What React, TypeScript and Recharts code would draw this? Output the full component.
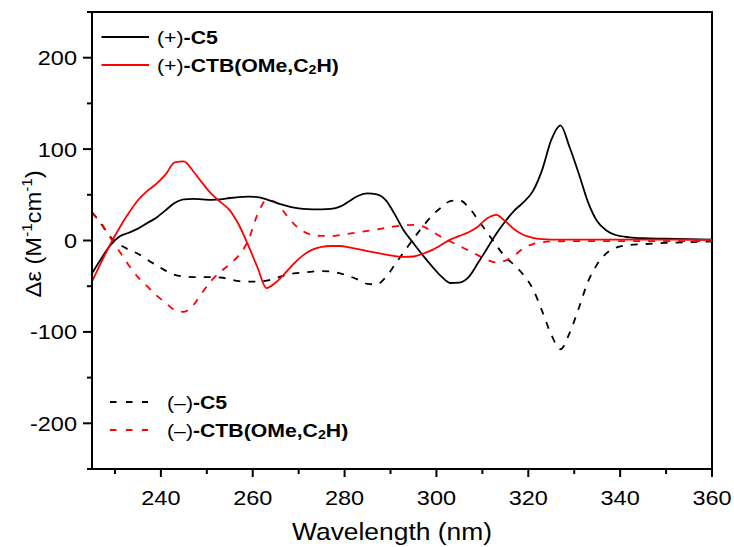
// CD spectra of the (+)/(−) enantiomers of C5 and CTB(OMe,C2H), Δε vs wavelength.

import { Line, LineChart, ReferenceArea, XAxis, YAxis } from "recharts";

const wavelengths = [
  225, 227, 229, 231, 233, 235, 237, 239, 241, 243,
  245, 247, 249, 251, 253, 255, 257, 259, 261, 263,
  265, 267, 269, 271, 273, 275, 277, 279, 281, 283,
  285, 287, 289, 291, 293, 295, 297, 299, 301, 303,
  305, 307, 309, 311, 313, 315, 317, 319, 321, 323,
  325, 327, 329, 331, 333, 335, 337, 339, 342, 345,
  350, 355, 360,
];

const c5Plus = [
  -36, -20, -5, 4.5, 8.5, 13, 19, 25, 33, 41,
  45, 45.5, 45, 44.5, 45, 46.5, 47.5, 48, 47.5, 45,
  41.5, 38.5, 36, 34.5, 34, 34, 34.5, 37, 43, 49,
  51.5, 50.5, 44, 28, 10, -3, -16, -28, -39, -46.5,
  -46, -40, -25, -9, 7, 21, 33, 42, 54, 77,
  110, 126, 102, 73, 42, 21, 11, 6, 3.5, 2.5,
  2, 1.5, 1,
];

const ctbPlus = [
  -45, -24, -4, 14, 30, 44, 54, 62, 72, 85.5,
  86.5, 76, 63, 51, 42, 33, 17, -5, -29, -52,
  -46, -36, -25, -16, -10, -7, -6, -6, -7.5, -9.5,
  -11.5, -13.5, -15.5, -17, -18, -17.5, -14.5, -10.5, -5, 1,
  5, 9, 15, 24, 28, 21, 12, 6, 3, 1.5,
  1, 1, 1, 1, 1, 1, 1, 1, 1, 1,
  1, 0.8, 0.7,
];

const c5Minus = [
  31, 18, 4, -4.5, -10, -14.5, -21, -27, -33, -37.5,
  -39.5, -40, -40, -40, -40.5, -42.5, -44.5, -45, -45, -44,
  -41, -38, -36, -35, -34, -33.5, -34, -36, -39, -43,
  -47.5, -48, -40, -26, -12, 2, 15, 27, 36, 43,
  44, 36.5, 23, 9, -5, -18, -27, -38, -53, -77,
  -103, -119, -101, -74, -45, -26, -14, -8, -5, -4,
  -2.7, -1.8, -1.1,
];

const ctbMinus = [
  30, 19, 3, -12, -27, -40, -50, -60, -68, -76,
  -78, -71, -57, -44, -34, -26, -16, 0, 28, 44,
  42, 30, 18, 10, 6, 5, 5, 6, 7.5, 9,
  10.5, 12, 14, 15.5, 16.5, 17, 15.5, 10, 4, -1,
  -6, -11, -16, -21, -24, -22, -16, -8.5, -4, -2,
  -1, -0.8, -0.7, -0.7, -0.7, -0.7, -0.7, -0.7, -0.7, -0.7,
  -0.7, -0.7, -0.7,
];

const xTicks = [230, 240, 250, 260, 270, 280, 290, 300, 310, 320, 330, 340, 350, 360];
const yTicks = [-250, -200, -150, -100, -50, 0, 50, 100, 150, 200, 250];

const data = wavelengths.map((w, i) => ({
  w,
  c5Plus: c5Plus[i],
  ctbPlus: ctbPlus[i],
  c5Minus: c5Minus[i],
  ctbMinus: ctbMinus[i],
}));

const FONT = "'Liberation Sans', Arial, sans-serif";
const RED = "#ff0000";

function XTick({ x, y, payload }: any) {
  const v = payload.value;
  const major = v % 20 === 0;
  return (
    <g>
      <line x1={x} x2={x} y1={y} y2={y + (major ? 8 : 5)} stroke="#000" strokeWidth={2} />
      {major && (
        <text transform={`translate(${x},${y + 36}) scale(1.12,1)`} textAnchor="middle" fontSize={21} fontFamily={FONT} fill="#000">
          {v}
        </text>
      )}
    </g>
  );
}

function YTick({ x, y, payload }: any) {
  const v = payload.value;
  const major = v % 100 === 0;
  return (
    <g>
      <line x1={x} x2={x - (major ? 9 : 5)} y1={y} y2={y} stroke="#000" strokeWidth={2} />
      {major && (
        <text transform={`translate(${x - 15},${y + 7.5}) scale(1.12,1)`} textAnchor="end" fontSize={21} fontFamily={FONT} fill="#000">
          {v}
        </text>
      )}
    </g>
  );
}

function LegendRow({ x, y, color, dashed, sign, name }: { x: number; y: number; color: string; dashed?: boolean; sign: string; name: "C5" | "CTB" }) {
  const lineStart = dashed ? 110 : 101.5;
  const lineEnd = dashed ? 148 : 149;
  return (
    <g>
      <line x1={lineStart} x2={lineEnd} y1={y} y2={y} stroke={color} strokeWidth={2} strokeDasharray={dashed ? "6.5 9.5" : undefined} />
      <text transform={`translate(${x},${y + 7}) scale(1.18,1)`} fontSize={18} fontFamily={FONT} fill="#000">
        <tspan fontWeight="normal">({sign})</tspan>
        {name === "C5" ? (
          <tspan fontWeight="bold">-C5</tspan>
        ) : (
          <>
            <tspan fontWeight="bold">-CTB(OMe,C</tspan>
            <tspan fontWeight="bold" fontSize={12} dy={2}>2</tspan>
            <tspan fontWeight="bold" dy={-2}>H)</tspan>
          </>
        )}
      </text>
    </g>
  );
}

function Overlay() {
  return (
    <svg width={734} height={547} style={{ position: "absolute", left: 0, top: 0, pointerEvents: "none" }}>
      <LegendRow x={157} y={37} color="#000" sign="+" name="C5" />
      <LegendRow x={157} y={65} color={RED} sign="+" name="CTB" />
      <LegendRow x={167} y={402} color="#000" dashed sign="–" name="C5" />
      <LegendRow x={167} y={430} color={RED} dashed sign="–" name="CTB" />

      <text transform="translate(392,540) scale(1.1,1)" textAnchor="middle" fontSize={24} fontFamily={FONT} fill="#000">
        Wavelength (nm)
      </text>
      <text transform="translate(41,234) rotate(-90) scale(1.08,1)" textAnchor="middle" fontSize={22} fontFamily={FONT} fill="#000">
        Δε (M<tspan fontSize={14} dy={-9}>-1</tspan>
        <tspan dy={9}>cm</tspan>
        <tspan fontSize={14} dy={-9}>-1</tspan>
        <tspan dy={9}>)</tspan>
      </text>
    </svg>
  );
}

export default function App() {
  return (
    <div style={{ position: "absolute", left: 0, top: 0, width: 734, height: 547, background: "#fff" }}>
      <LineChart width={734} height={547} data={data} margin={{ top: 12, right: 22, left: 0, bottom: 0 }}>
        <XAxis
          dataKey="w" type="number" domain={[225, 360]} ticks={xTicks} interval={0}
          height={78} tickSize={0} tickMargin={0} tickLine={false}
          axisLine={{ stroke: "#000", strokeWidth: 2 }} tick={<XTick />} allowDataOverflow
        />
        <YAxis
          type="number" domain={[-250, 250]} ticks={yTicks} interval={0}
          width={92} tickSize={0} tickMargin={0} tickLine={false}
          axisLine={{ stroke: "#000", strokeWidth: 2 }} tick={<YTick />} allowDataOverflow
        />
        <ReferenceArea x1={225} x2={360} y1={-250} y2={250} fill="none" stroke="#000" strokeWidth={2} />
        <Line type="monotone" dataKey="c5Minus" stroke="#000" strokeWidth={1.8} strokeDasharray="7 8" dot={false} isAnimationActive={false} />
        <Line type="monotone" dataKey="ctbMinus" stroke={RED} strokeWidth={1.8} strokeDasharray="7 8" dot={false} isAnimationActive={false} />
        <Line type="monotone" dataKey="c5Plus" stroke="#000" strokeWidth={1.8} dot={false} isAnimationActive={false} />
        <Line type="monotone" dataKey="ctbPlus" stroke={RED} strokeWidth={1.8} dot={false} isAnimationActive={false} />
      </LineChart>
      <Overlay />
    </div>
  );
}
